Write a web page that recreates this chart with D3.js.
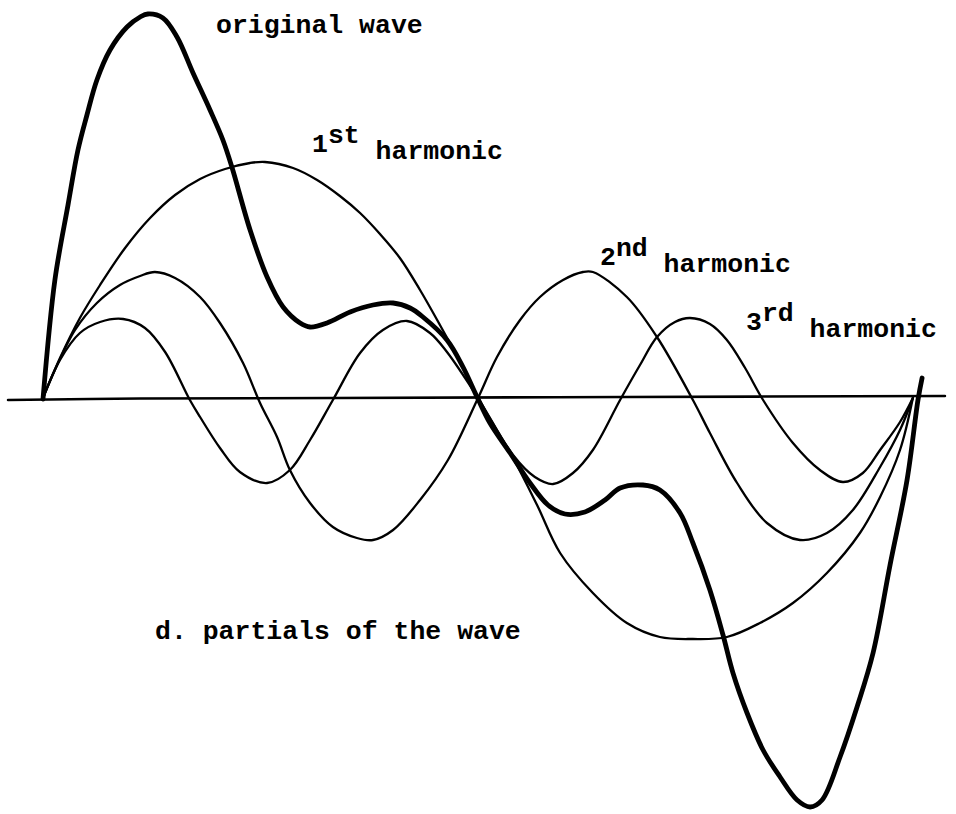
<!DOCTYPE html>
<html>
<head>
<meta charset="utf-8">
<script src="https://cdn.jsdelivr.net/npm/d3@7"></script>
<style>
  html, body { margin: 0; padding: 0; background: #fff; }
  svg { display: block; }
  .label { font-family: "Liberation Mono", "DejaVu Sans Mono", monospace; font-weight: bold; font-size: 26.5px; fill: #000; }
</style>
</head>
<body>
<div id="chart"></div>
<script>
// x = phase in degrees (0..360 is one period of the original wave)
// y = amplitude, arbitrary units (0 = rest line)
const originalWave = [
  [0, -0.01], [4.9, 1.18], [10.3, 1.93], [14.4, 2.48], [18.1, 2.83], [22.2, 3.18],
  [27.6, 3.48], [34.6, 3.71], [40.0, 3.81], [43.2, 3.84], [49.4, 3.80], [55.2, 3.61], [61.8, 3.25],
  [68.8, 2.88], [74.1, 2.58], [77.8, 2.31], [85.3, 1.68], [92.3, 1.21], [98.9, 0.91],
  [105.9, 0.75], [110.0, 0.71], [117.0, 0.75], [126.5, 0.86], [135.9, 0.93], [144.2, 0.95],
  [151.2, 0.90], [156.5, 0.81], [166.4, 0.58], [173.0, 0.31], [178.8, 0.01], [184.1, -0.25],
  [192.4, -0.55], [200.6, -0.85], [208.0, -1.07], [215.0, -1.16], [223.2, -1.14], [231.5, -1.02],
  [237.7, -0.90], [247.1, -0.87], [254.1, -0.92], [262.4, -1.15], [267.7, -1.45], [274.7, -1.92],
  [280.1, -2.37], [284.2, -2.75], [290.0, -3.15], [296.6, -3.52], [303.6, -3.79], [310.6, -4.02],
  [316.0, -4.09], [320.9, -4.02], [328.3, -3.59], [335.3, -3.09], [341.9, -2.55], [348.9, -1.67],
  [355.9, -0.82], [360.4, -0.02], [362.1, 0.20]
];

const harmonic1 = [
  [0, 0], [7.0, 0.40], [15.2, 0.80], [23.5, 1.13], [33.8, 1.50], [44.1, 1.80],
  [54.4, 2.03], [64.7, 2.19], [75.0, 2.29], [85.3, 2.35], [91.4, 2.36], [103.0, 2.30],
  [112.9, 2.18], [122.3, 2.02], [130.6, 1.85], [138.8, 1.64], [147.0, 1.40], [155.3, 1.08],
  [163.5, 0.73], [171.8, 0.36], [179.2, 0], [193.6, -0.60], [203.5, -1.07], [213.0, -1.55],
  [226.5, -1.95], [240.5, -2.25], [254.1, -2.39], [267.7, -2.41], [281.7, -2.39], [295.3, -2.25],
  [308.9, -2.05], [322.9, -1.75], [336.5, -1.35], [344.8, -0.99], [353.0, -0.52], [358.3, 0]
];

const harmonic2 = [
  [0, 0], [4.9, 0.28], [13.2, 0.68], [22.2, 0.95], [31.7, 1.13], [40.0, 1.22],
  [46.1, 1.26], [54.4, 1.20], [64.7, 1.01], [72.9, 0.75], [82.4, 0.35], [89.4, -0.05],
  [96.4, -0.39], [101.7, -0.72], [110.0, -1.05], [119.4, -1.29], [129.3, -1.40], [135.9, -1.42],
  [144.2, -1.32], [155.3, -1.02], [166.8, -0.62], [179.2, 0], [187.0, 0.41], [196.5, 0.78],
  [204.7, 1.01], [214.2, 1.18], [222.4, 1.26], [226.5, 1.26], [240.5, 1.01], [252.9, 0.61],
  [267.7, -0.02], [274.7, -0.35], [285.9, -0.85], [298.2, -1.25], [311.8, -1.42], [322.9, -1.35],
  [333.6, -1.12], [344.8, -0.69], [353.0, -0.32], [358.3, 0]
];

const harmonic3 = [
  [0, 0], [7.0, 0.38], [15.2, 0.65], [23.5, 0.76], [33.0, 0.79], [42.0, 0.70],
  [50.3, 0.46], [60.5, -0.02], [64.7, -0.19], [72.9, -0.50], [81.1, -0.74], [92.3, -0.85],
  [101.7, -0.72], [110.0, -0.42], [119.4, -0.02], [130.6, 0.45], [140.0, 0.68], [149.9, 0.77],
  [159.4, 0.65], [166.4, 0.46], [179.2, 0], [193.6, -0.57], [202.6, -0.79], [210.1, -0.86],
  [218.3, -0.75], [226.5, -0.52], [237.7, -0.02], [245.9, 0.33], [252.9, 0.61], [260.3, 0.76],
  [266.5, 0.80], [274.7, 0.74], [281.7, 0.58], [289.2, 0.30], [296.6, -0.02], [308.9, -0.45],
  [320.0, -0.72], [329.5, -0.84], [337.7, -0.75], [344.8, -0.52], [353.0, -0.24], [358.3, 0]
];

// hand drawn rest line, slightly tilted
const restLine = [[-14.4, -0.02], [40, -0.005], [120, 0], [240, 0.01], [371.5, 0.02]];

const width = 956;
const height = 814;

const svg = d3.select('#chart')
  .append('svg')
  .attr('width', width)
  .attr('height', height);

const xScale = d3.scaleLinear().domain([0, 360]).range([43, 917]);
const yScale = d3.scaleLinear().domain([-4, 4]).range([798, -2]);

const line = d3.line()
  .x(d => xScale(d[0]))
  .y(d => yScale(d[1]))
  .curve(d3.curveCatmullRom.alpha(0.5));

function drawCurve(points, strokeWidth) {
  svg.append('path')
    .datum(points)
    .attr('d', line)
    .attr('fill', 'none')
    .attr('stroke', '#000')
    .attr('stroke-width', strokeWidth)
    .attr('stroke-linecap', 'round')
    .attr('stroke-linejoin', 'round');
}

drawCurve(restLine, 2.6);
drawCurve(harmonic1, 2.3);
drawCurve(harmonic2, 2.3);
drawCurve(harmonic3, 2.3);
drawCurve(originalWave, 4.8);

// labels: typewriter style, the ordinal is raised a little and its suffix raised more
function addLabel(x, y, num, sup, rest) {
  const t = svg.append('text').attr('class', 'label').attr('x', x).attr('y', y);
  if (num) {
    t.append('tspan').attr('dy', -7).text(num);
    t.append('tspan').attr('dy', -9).text(sup);
    t.append('tspan').attr('dy', 16).attr('xml:space', 'preserve').text(' ' + rest);
  } else {
    t.text(rest);
  }
}

addLabel(216, 33, '', '', 'original wave');
addLabel(312, 159, '1', 'st', 'harmonic');
addLabel(600, 272, '2', 'nd', 'harmonic');
addLabel(746, 337, '3', 'rd', 'harmonic');
addLabel(155, 639, '', '', 'd. partials of the wave');
</script>
</body>
</html>
